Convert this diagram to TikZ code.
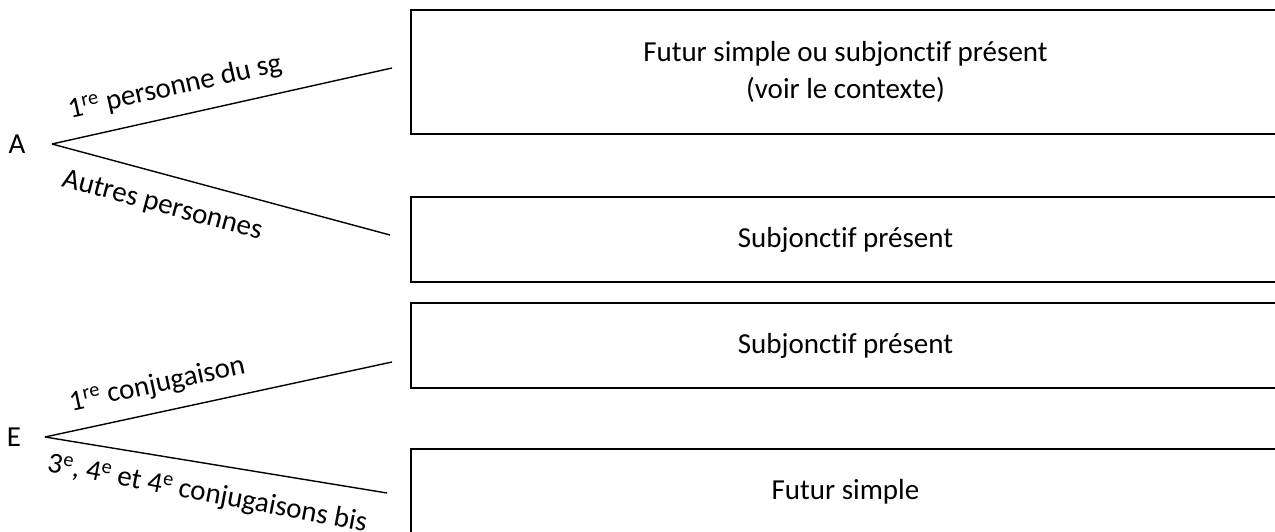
\documentclass[tikz,border=0pt]{standalone}
\usepackage{fontspec}
\setmainfont{Carlito}[Ligatures=NoCommon]
\begin{document}
\begin{tikzpicture}[x=1pt,y=-1pt,
  txt/.style={font=\fontsize{29}{37}\selectfont, inner sep=0pt},
  box/.style={draw, line width=1.6pt, minimum width=869pt, inner sep=0pt, align=center, font=\fontsize{29}{37}\selectfont},
  branch/.style={line width=1.4pt},
  lab/.style={font=\fontsize{29}{35}\selectfont, sloped, inner sep=0pt}]
\useasboundingbox (0,0) rectangle (1275,532);
% boxes
\node[box, minimum height=124pt] (b1) at (845.5,72) {Futur simple ou subjonctif présent\\(voir le contexte)};
\node[box, minimum height=85pt] (b2) at (845.5,239.5) {Subjonctif présent};
\node[box, minimum height=85pt] (b3) at (845.5,345.5) {Subjonctif présent};
\node[box, minimum height=85pt] (b4) at (845.5,491.5) {Futur simple};
% roots
\node[txt] (A) at (17,144) {A};
\node[txt] (E) at (14,437) {E};
\coordinate (a0) at (52,144);
\coordinate (a1) at (392,68);
\coordinate (a2) at (390,235);
\coordinate (e0) at (45,437);
\coordinate (e1) at (392,362);
\coordinate (e2) at (387,493);
\draw[branch] (a0) -- node[lab, pos=.38, above=15pt] (la1) {1\textsuperscript{re} personne du sg} (a1);
\draw[branch] (a0) -- node[lab, pos=.35, below=19pt] (la2) {Autres personnes} (a2);
\draw[branch] (e0) -- node[lab, pos=.34, above=14pt] (le1) {1\textsuperscript{re} conjugaison} (e1);
\draw[branch] (e0) -- node[lab, pos=.49, below=17pt, rotate=-1.5] (le2) {3\textsuperscript{e}, 4\textsuperscript{e} et 4\textsuperscript{e} conjugaisons bis} (e2);
\end{tikzpicture}
\end{document}
